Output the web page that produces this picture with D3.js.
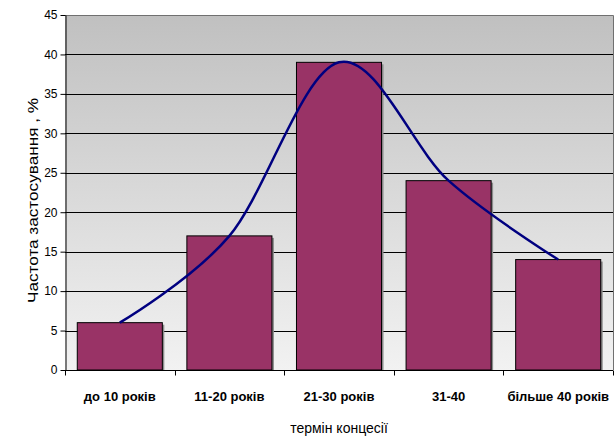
<!DOCTYPE html>
<html>
<head>
<meta charset="utf-8">
<script src="https://cdn.jsdelivr.net/npm/d3@7"></script>
<style>
  html, body { margin: 0; padding: 0; background: #fff; }
  svg { display: block; font-family: "Liberation Sans", Arial, sans-serif; }
</style>
</head>
<body>
<svg id="chart" width="614" height="438"></svg>
<script>
// Concession terms and how often each is used (%)
const categories = ["до 10 років", "11-20 років", "21-30 років", "31-40", "більше 40 років"];
const values = [6, 17, 39, 24, 14];
const yTicks = [0, 5, 10, 15, 20, 25, 30, 35, 40, 45];
const yTitle = "Частота застосування , %";
const xTitle = "термін концесії";

const svg = d3.select("#chart");
const plot = { left: 65, right: 613, top: 15, bottom: 370 };

const x = d3.scaleBand()
  .domain(categories)
  .range([plot.left, plot.right])
  .paddingInner(0.224)
  .paddingOuter(0.112);

const y = d3.scaleLinear()
  .domain([0, 45])
  .range([plot.bottom, plot.top]);

// Plot area background: grey-to-light vertical gradient
const defs = svg.append("defs");
const grad = defs.append("linearGradient")
  .attr("id", "bg").attr("x1", 0).attr("y1", 0).attr("x2", 0).attr("y2", 1);
grad.append("stop").attr("offset", "0%").attr("stop-color", "#c0c0c0");
grad.append("stop").attr("offset", "100%").attr("stop-color", "#f2f2f2");

svg.append("rect")
  .attr("x", plot.left).attr("y", plot.top)
  .attr("width", plot.right - plot.left).attr("height", plot.bottom - plot.top)
  .attr("fill", "url(#bg)");

// Horizontal gridlines
svg.append("g")
  .selectAll("line")
  .data(yTicks.filter(d => d > 0 && d < 45))
  .join("line")
  .attr("x1", plot.left).attr("x2", plot.right)
  .attr("y1", d => Math.round(y(d)) + 0.5).attr("y2", d => Math.round(y(d)) + 0.5)
  .attr("stroke", "#000").attr("stroke-width", 1);

// Plot area border (top and right)
svg.append("path")
  .attr("d", `M${plot.left},${plot.top + 0.5}H${plot.right + 0.5}V${plot.bottom}`)
  .attr("fill", "none").attr("stroke", "#707070").attr("stroke-width", 1);

// Bars with a small drop shadow
const bars = svg.append("g");
bars.selectAll("rect.shadow")
  .data(values)
  .join("rect")
  .attr("class", "shadow")
  .attr("x", (d, i) => x(categories[i]) + 2)
  .attr("y", d => y(d) + 2)
  .attr("width", x.bandwidth())
  .attr("height", d => y(0) - y(d) - 2)
  .attr("fill", "#8c8c8c");
bars.selectAll("rect.bar")
  .data(values)
  .join("rect")
  .attr("class", "bar")
  .attr("x", (d, i) => x(categories[i]))
  .attr("y", d => y(d))
  .attr("width", x.bandwidth())
  .attr("height", d => y(0) - y(d))
  .attr("fill", "#993366")
  .attr("stroke", "#000").attr("stroke-width", 1);

// Smoothed trend line through bar tops
const line = d3.line()
  .x((d, i) => x(categories[i]) + x.bandwidth() / 2)
  .y(d => y(d))
  .curve(d3.curveCatmullRom.alpha(0));
svg.append("path")
  .datum(values)
  .attr("d", line)
  .attr("fill", "none")
  .attr("stroke", "#000080")
  .attr("stroke-width", 2.5);

// Y axis
const yAxis = svg.append("g")
  .attr("transform", `translate(${plot.left + 0.5},0)`)
  .call(d3.axisLeft(y).tickValues(yTicks).tickSize(5).tickSizeOuter(0));
yAxis.select(".domain").attr("stroke", "#000");
yAxis.selectAll(".tick line").attr("stroke", "#000");
yAxis.selectAll(".tick text")
  .attr("font-size", 12).attr("fill", "#000").attr("x", -8)
  .attr("font-family", "Liberation Sans, Arial, sans-serif");

// X axis: ticks between categories
const xAxisG = svg.append("g")
  .attr("transform", `translate(0,${plot.bottom + 0.5})`);
xAxisG.append("line")
  .attr("x1", plot.left).attr("x2", plot.right)
  .attr("stroke", "#000");
const bounds = categories.map(c => x(c) - x.step() * x.paddingInner() / 2)
  .concat([plot.right]);
bounds[0] = plot.left;
xAxisG.selectAll("line.tick")
  .data(bounds)
  .join("line")
  .attr("class", "tick")
  .attr("x1", d => Math.round(d) + 0.5).attr("x2", d => Math.round(d) + 0.5)
  .attr("y1", 0).attr("y2", 5)
  .attr("stroke", "#000");
xAxisG.selectAll("text")
  .data(categories)
  .join("text")
  .attr("x", d => x(d) + x.bandwidth() / 2)
  .attr("y", 30)
  .attr("text-anchor", "middle")
  .attr("font-size", 13)
  .attr("font-weight", "bold")
  .attr("fill", "#000")
  .text(d => d);

// Axis titles
svg.append("text")
  .attr("transform", `translate(38,${(plot.top + plot.bottom) / 2 + 8}) rotate(-90)`)
  .attr("text-anchor", "middle")
  .attr("font-size", 15)
  .attr("textLength", 205)
  .attr("lengthAdjust", "spacingAndGlyphs")
  .attr("fill", "#000")
  .text(yTitle);
svg.append("text")
  .attr("x", (plot.left + plot.right) / 2)
  .attr("y", 433)
  .attr("text-anchor", "middle")
  .attr("font-size", 14)
  .attr("fill", "#000")
  .text(xTitle);
</script>
</body>
</html>
